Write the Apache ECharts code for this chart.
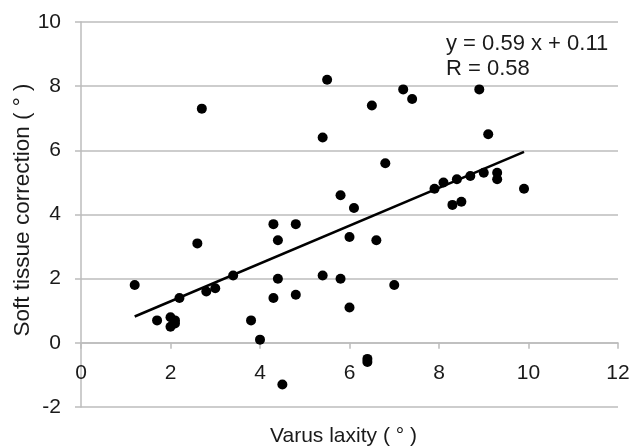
<!DOCTYPE html>
<html>
<head>
<meta charset="utf-8">
<script src="https://cdn.jsdelivr.net/npm/echarts@6/dist/echarts.min.js"></script>
<style>
  html, body { margin: 0; padding: 0; background: #fff; }
  #chart { width: 632px; height: 446px; }
</style>
</head>
<body>
<div id="chart"></div>
<script>
  // varus laxity (x) vs soft tissue correction (y)
  const laxity = [1.2, 1.7, 2.0, 2.1, 2.0, 2.1, 2.2, 2.6, 2.7, 2.8, 3.0, 3.4, 3.8, 4.0, 4.3, 4.4, 4.4, 4.3, 4.5, 4.8,
                  4.8, 5.4, 5.5, 5.4, 5.8, 5.8, 6.0, 6.0, 6.1, 6.4, 6.4, 6.5, 6.6, 6.8, 7.0, 7.2, 7.4, 7.9, 8.1, 8.3,
                  8.4, 8.5, 8.7, 8.9, 9.0, 9.1, 9.3, 9.3, 9.9];
  const correction = [1.8, 0.7, 0.8, 0.7, 0.5, 0.6, 1.4, 3.1, 7.3, 1.6, 1.7, 2.1, 0.7, 0.1, 3.7, 3.2, 2.0, 1.4, -1.3, 3.7,
                      1.5, 6.4, 8.2, 2.1, 4.6, 2.0, 3.3, 1.1, 4.2, -0.5, -0.6, 7.4, 3.2, 5.6, 1.8, 7.9, 7.6, 4.8, 5.0, 4.3,
                      5.1, 4.4, 5.2, 7.9, 5.3, 6.5, 5.3, 5.1, 4.8];
  // end points of the drawn trend line
  const trendX = [1.2, 9.9];
  const trendY = [0.82, 5.95];
  const fitText = ['y = 0.59 x + 0.11', 'R = 0.58'];

  const points = laxity.map((x, i) => [x, correction[i]]);
  const trend = trendX.map((x, i) => [x, trendY[i]]);

  const fontFam = 'Liberation Sans, Arial, sans-serif';
  const gray = '#bcbcbc';
  const ink = '#1a1a1a';

  // plot box; the x axis sits on y = 0, one step (1/6 of the height) above the bottom
  const plotTop = 22, plotBottom = 39;
  const zeroLift = (446 - plotTop - plotBottom) / 6;

  let myChart = echarts.init(document.getElementById('chart'));
  let option = {
    animation: false,
    grid: {
      left: 81,
      right: 14,
      top: plotTop,
      bottom: plotBottom,
      containLabel: false,
      outerBoundsMode: 'none'
    },
    xAxis: {
      type: 'value',
      min: 0,
      max: 12,
      interval: 2,
      position: 'bottom',
      offset: -zeroLift,
      name: 'Varus laxity ( ° )',
      nameLocation: 'middle',
      nameGap: 83,
      nameMoveOverlap: false,
      nameTextStyle: { color: ink, fontSize: 21, fontFamily: fontFam, padding: [0, 12, 0, 0] },
      axisLine: { onZero: false, lineStyle: { color: gray, width: 1.5 } },
      axisTick: { show: true, length: 6, lineStyle: { color: gray, width: 1.5 } },
      axisLabel: { color: ink, fontSize: 21, fontFamily: fontFam, margin: 20 },
      splitLine: { show: false }
    },
    yAxis: {
      type: 'value',
      min: -2,
      max: 10,
      interval: 2,
      name: 'Soft tissue correction ( ° )',
      nameLocation: 'middle',
      nameRotate: 90,
      nameGap: 47,
      nameMoveOverlap: false,
      nameTextStyle: { color: ink, fontSize: 22.5, fontFamily: fontFam, padding: [0, 0, 0, 9] },
      axisLine: { show: true, lineStyle: { color: gray, width: 1.5 } },
      axisTick: { show: true, length: 6, lineStyle: { color: gray, width: 1.5 } },
      axisLabel: { color: ink, fontSize: 21, fontFamily: fontFam, margin: 20 },
      splitLine: { show: true, showMinLine: true, showMaxLine: true, lineStyle: { color: gray, width: 1.5 } }
    },
    graphic: [
      {
        type: 'text',
        left: 446,
        top: 31,
        style: {
          text: fitText.join('\n'),
          fill: ink,
          font: '22px ' + fontFam,
          lineHeight: 25
        }
      }
    ],
    series: [
      {
        type: 'line',
        data: trend,
        showSymbol: false,
        symbol: 'none',
        lineStyle: { color: '#000', width: 2.5 },
        z: 2
      },
      {
        type: 'scatter',
        data: points,
        symbolSize: 10,
        itemStyle: { color: '#000', opacity: 1 },
        z: 3
      }
    ]
  };
  myChart.setOption(option);
</script>
</body>
</html>
